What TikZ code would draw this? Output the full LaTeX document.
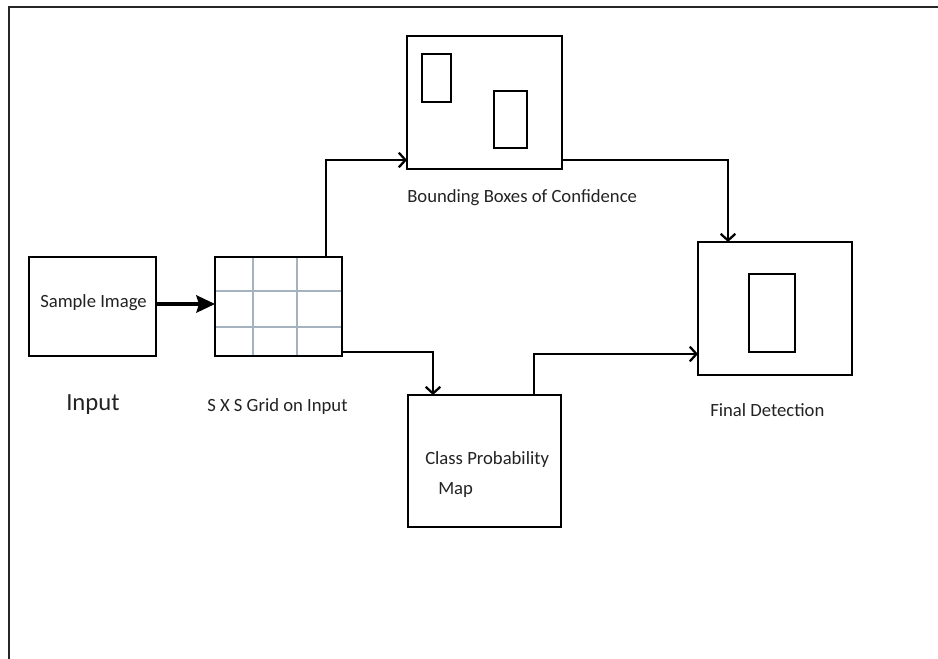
\documentclass[tikz,border=0pt]{standalone}
\usepackage{fontspec}
\setmainfont{Carlito}
\usetikzlibrary{arrows.meta}
\definecolor{gridc}{RGB}{165,178,192}
\definecolor{txt}{RGB}{35,35,35}
\tikzset{
  box/.style={draw=black, line width=1.9pt, inner sep=0pt, outer sep=0pt, fill=white},
  inner/.style={draw=black, line width=1.9pt},
  conn/.style={draw=black, line width=1.9pt, -{Straight Barb[length=5pt,width=11pt,line width=1.7pt]}},
  thickconn/.style={draw=black, line width=2.4pt, -{Stealth[length=14pt,width=13pt,inset=2pt]}},
  lbl/.style={text=txt, inner sep=0pt, anchor=base west, font=\fontsize{14}{17}\selectfont},
}
\begin{document}
\begin{tikzpicture}[x=0.75pt,y=-0.75pt]
\useasboundingbox (0,0) rectangle (938,658);
\fill[white] (0,0) rectangle (938,658);
% frame
\draw[line width=1.8pt, black!85] (9,670) -- (9,7) -- (950,7);
% boxes
\node[box, minimum width=95.25pt, minimum height=74.25pt] (sample) at (92.5,306.5) {};
\node[box, minimum width=95.25pt, minimum height=74.25pt] (grid) at (278.5,306.5) {};
\node[box, minimum width=116.25pt, minimum height=99.75pt] (bb) at (484.5,102.5) {};
\node[box, minimum width=115.5pt, minimum height=99.75pt] (final) at (775,308.5) {};
\node[box, minimum width=114.75pt, minimum height=99pt] (cls) at (484.5,461) {};
% grid lines
\draw[gridc, line width=0.8pt] (253,257) -- (253,356) (297,257) -- (297,356)
  (215,291) -- (342,291) (215,327) -- (342,327);
\draw[box, fill=none] (grid.south west) rectangle (grid.north east);
% inner rectangles
\draw[inner] (422,54) rectangle (451,102);
\draw[inner] (494,91) rectangle (527,148);
\draw[inner] (749,274) rectangle (795,352);
% texts
\node[lbl] (tsample) at (40,307) {Sample Image};
\node[lbl, font=\fontsize{18.5}{22}\selectfont] (tinput) at (66,410) {Input};
\node[lbl] (tgrid) at (207,411) {S X S Grid on Input};
\node[lbl] (tbb) at (407,202) {Bounding Boxes of Confidence};
\node[lbl] (tfinal) at (710,416) {Final Detection};
\node[lbl] (tcls1) at (425,464) {Class Probability};
\node[lbl] (tcls2) at (438,494) {Map};
% connectors
\draw[thickconn] (sample.east |- 0,304) -- (grid.west |- 0,304);
\draw[conn] (grid.north -| 326,0) |- (bb.west |- 0,160);
\draw[conn] (bb.east |- 0,160) -| (final.north -| 728,0);
\draw[conn] (grid.east |- 0,352) -| (cls.north -| 433,0);
\draw[conn] (cls.north -| 534,0) |- (final.west |- 0,354);
\end{tikzpicture}
\end{document}
